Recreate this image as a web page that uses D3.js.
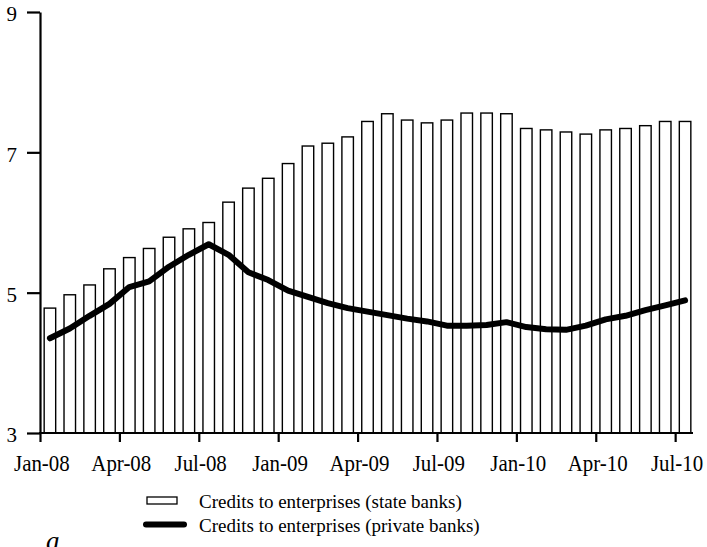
<!DOCTYPE html>
<html>
<head>
<meta charset="utf-8">
<script src="https://cdn.jsdelivr.net/npm/d3@7"></script>
<style>
  html, body { margin: 0; padding: 0; background: #fff; }
  svg { display: block; }
  text { font-family: "Liberation Serif", "Times New Roman", serif; fill: #000; }
</style>
</head>
<body>
<script>
// Monthly categories, Jan-08 .. Sep-10
const months = [
  "Jan-08","Feb-08","Mar-08","Apr-08","May-08","Jun-08","Jul-08","Aug-08","Sep-08","Oct-08","Nov-08","Dec-08",
  "Jan-09","Feb-09","Mar-09","Apr-09","May-09","Jun-09","Jul-09","Aug-09","Sep-09","Oct-09","Nov-09","Dec-09",
  "Jan-10","Feb-10","Mar-10","Apr-10","May-10","Jun-10","Jul-10","Aug-10","Sep-10"
];

// Credits to enterprises, state banks (bars)
const stateBanks = [
  4.78, 4.97, 5.11, 5.34, 5.50, 5.63, 5.79, 5.91, 6.00, 6.29, 6.49, 6.63,
  6.84, 7.09, 7.13, 7.22, 7.44, 7.55, 7.46, 7.42, 7.46, 7.56, 7.56, 7.55,
  7.34, 7.32, 7.29, 7.26, 7.32, 7.34, 7.38, 7.44, 7.44
];

// Credits to enterprises, private banks (line)
const privateBanks = [
  4.35, 4.49, 4.67, 4.84, 5.08, 5.16, 5.37, 5.54, 5.69, 5.54, 5.29, 5.18,
  5.03, 4.94, 4.85, 4.78, 4.73, 4.68, 4.63, 4.59, 4.53, 4.53, 4.54, 4.58,
  4.51, 4.48, 4.47, 4.53, 4.62, 4.67, 4.75, 4.82, 4.89
];

// Axis labels
const xTickLabels = ["Jan-08","Apr-08","Jul-08","Jan-09","Apr-09","Jul-09","Jan-10","Apr-10","Jul-10"];
const xTickEvery = 4;
const yTicks = [3, 5, 7, 9];

const legendItems = [
  "Credits to enterprises (state banks)",
  "Credits to enterprises (private banks)"
];
const panelLetter = "a";

const W = 707, H = 547;
const plotLeft = 40, plotRight = 695, plotTop = 12, plotBottom = 433;

const svg = d3.select("body").append("svg")
  .attr("width", W).attr("height", H);

const x = d3.scaleBand()
  .domain(d3.range(months.length))
  .range([plotLeft, plotRight])
  .paddingInner(0.42)
  .paddingOuter(0.21);

const xTick = d3.scaleLinear()
  .domain([0, months.length])
  .range([plotLeft, plotRight]);

const y = d3.scaleLinear().domain([3, 9]).range([plotBottom, plotTop]);

// Bars
svg.append("g")
  .selectAll("rect")
  .data(stateBanks)
  .join("rect")
  .attr("x", (d, i) => x(i))
  .attr("y", d => y(d))
  .attr("width", x.bandwidth())
  .attr("height", d => y(3) - y(d))
  .attr("fill", "#fff")
  .attr("stroke", "#000")
  .attr("stroke-width", 1.4);

// Line
const line = d3.line()
  .x((d, i) => x(i) + x.bandwidth() / 2)
  .y(d => y(d));

svg.append("path")
  .datum(privateBanks)
  .attr("d", line)
  .attr("fill", "none")
  .attr("stroke", "#000")
  .attr("stroke-width", 6)
  .attr("stroke-linejoin", "round")
  .attr("stroke-linecap", "round");

// X axis
const xAxis = svg.append("g")
  .attr("transform", `translate(0,${plotBottom})`)
  .call(d3.axisBottom(xTick)
    .tickValues(d3.range(0, months.length, xTickEvery))
    .tickFormat((d, i) => xTickLabels[i])
    .tickSize(9)
    .tickSizeOuter(0));
xAxis.select(".domain").attr("stroke-width", 2.2).attr("d", `M${plotLeft - 1},0H${plotRight - 2}`);
xAxis.selectAll(".tick line").attr("stroke-width", 2.2);
xAxis.selectAll(".tick text")
  .attr("x", 1.5)
  .attr("y", 22)
  .attr("font-size", 23)
  .attr("transform", "scale(0.91,1)")
  .style("font-family", "'Liberation Serif', 'Times New Roman', serif");

// Y axis
const yAxis = svg.append("g")
  .attr("transform", `translate(${plotLeft},0)`)
  .call(d3.axisLeft(y)
    .tickValues(yTicks)
    .tickFormat(d3.format("d"))
    .tickSize(13)
    .tickSizeOuter(0));
yAxis.select(".domain").attr("stroke-width", 2.2);
yAxis.selectAll(".tick line").attr("stroke-width", 2.2);
yAxis.selectAll(".tick text")
  .attr("x", -23)
  .attr("dy", "0.42em")
  .attr("font-size", 21)
  .style("font-family", "'Liberation Serif', 'Times New Roman', serif");

// Legend
const legend = svg.append("g");
legend.append("rect")
  .attr("x", 147).attr("y", 497)
  .attr("width", 30).attr("height", 7)
  .attr("fill", "#fff").attr("stroke", "#000").attr("stroke-width", 1.3);
legend.append("line")
  .attr("x1", 146).attr("x2", 184)
  .attr("y1", 524.5).attr("y2", 524.5)
  .attr("stroke", "#000").attr("stroke-width", 6)
  .attr("stroke-linecap", "round");
legend.selectAll("text.item")
  .data(legendItems)
  .join("text")
  .attr("class", "item")
  .attr("x", 199)
  .attr("y", (d, i) => 507.5 + i * 24)
  .attr("font-size", 19)
  .text(d => d);

// Panel letter at the lower edge
svg.append("text")
  .attr("x", 46).attr("y", 550)
  .attr("font-size", 27)
  .attr("font-style", "italic")
  .text(panelLetter);
</script>
</body>
</html>
